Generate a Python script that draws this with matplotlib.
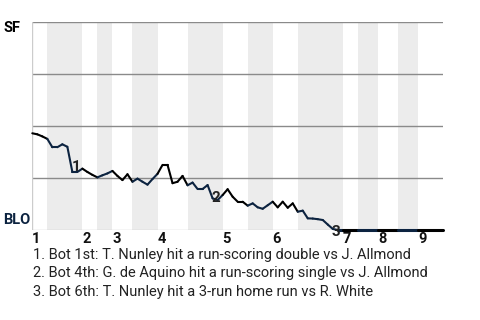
import matplotlib
matplotlib.use("Agg")
import matplotlib.pyplot as plt
import numpy as np

plt.rcParams['font.family'] = ['Roboto', 'DejaVu Sans']

# limites dos meios-innings (indice de aparicao ao bastao)
limites = [0, 3, 10, 13, 16, 20, 25, 31, 38, 43, 48, 53, 62, 65, 69, 73, 77, 82]
entradas = ['1', '2', '3', '4', '5', '6', '7', '8', '9']

# probabilidade de vitoria do SF (%) por aparicao
prob_sf = [46.5, 46.0, 45.0, 43.8, 39.8, 39.8, 41.2, 40.0, 27.9, 27.9,
           29.5, 27.9, 26.5, 25.3, 26.3, 27.2, 28.4, 26.0, 24.0, 26.8,
           23.2, 24.7, 23.2, 21.8, 24.5, 27.0, 31.3, 31.3, 22.5, 23.2,
           26.0, 21.5, 22.8, 19.7, 19.7, 21.6, 15.2, 14.4, 16.8, 19.6,
           16.0, 13.6, 13.6, 11.7, 12.8, 10.9, 10.2, 11.9, 13.6, 10.9,
           13.6, 10.7, 12.8, 8.8, 9.3, 5.6, 5.5, 5.2, 4.8, 2.6,
           0.5] + [0.0] * 22

eventos = [8, 36, 60]
notas = [
    "1. Bot 1st: T. Nunley hit a run-scoring double vs J. Allmond",
    "2. Bot 4th: G. de Aquino hit a run-scoring single vs J. Allmond",
    "3. Bot 6th: T. Nunley hit a 3-run home run vs R. White",
]

preto = '#000000'
azul = '#0c2340'

fig = plt.figure(figsize=(4.8, 3.2), dpi=100)
ax = fig.add_axes([32.3 / 480, 1 - 230 / 320, (443 - 32.3) / 480, 208 / 320])

# faixas cinzas para a parte de baixo de cada inning
for i in range(1, len(limites) - 1, 2):
    ax.axvspan(limites[i], limites[i + 1], color='#ececec', lw=0, zorder=0)

for y in [25, 50, 75, 100]:
    ax.axhline(y, color='#8a8a8a', lw=1, zorder=1)
ax.axhline(0, color='#cccccc', lw=1, zorder=1)
ax.axvline(0, color='#cccccc', lw=1, zorder=1)

# linha colorida por meio-inning
x = np.arange(len(prob_sf))
for i in range(len(prob_sf) - 1):
    meio = (x[i] + x[i + 1]) / 2
    k = np.searchsorted(limites, meio) - 1
    cor = preto if k % 2 == 0 else azul
    lw = 2.2 if prob_sf[i] == 0 and prob_sf[i + 1] == 0 else 1.5
    ax.plot(x[i:i + 2], prob_sf[i:i + 2], color=cor, lw=lw,
            solid_capstyle='round', zorder=3, clip_on=False)

deslocs = [(2.6, 3.6), (2.4, 0.5), (2.5, -2.2)]
for n, (e, d) in enumerate(zip(eventos, deslocs)):
    ax.annotate(str(n + 1), (x[e], prob_sf[e]), xytext=d,
                textcoords='offset points', ha='center', va='center',
                fontsize=11, fontweight='bold', color='#222222', zorder=4,
                annotation_clip=False)

ax.set_xlim(0, limites[-1])
ax.set_ylim(0, 100)
for s in ax.spines.values():
    s.set_visible(False)
ax.set_xticks([])
ax.set_yticks([])

for j, lab in enumerate(entradas):
    ax.text(limites[2 * j], -1.2, lab, ha='left', va='top', fontsize=10.5,
            fontweight='bold', color='#111111')

fig.text(3 / 480, 1 - 28.5 / 320, 'SF', ha='left', va='center', fontsize=10.5,
         fontweight='bold', color=preto)
fig.text(3 / 480, 1 - 220.5 / 320, 'BLO', ha='left', va='center', fontsize=10.5,
         fontweight='bold', color=azul)

for n, t in enumerate(notas):
    fig.text(33 / 480, 1 - (259 + 18.3 * n) / 320, t, ha='left',
             va='baseline', fontsize=10.5, color='#222222')

fig.savefig('out.png', dpi=100)
